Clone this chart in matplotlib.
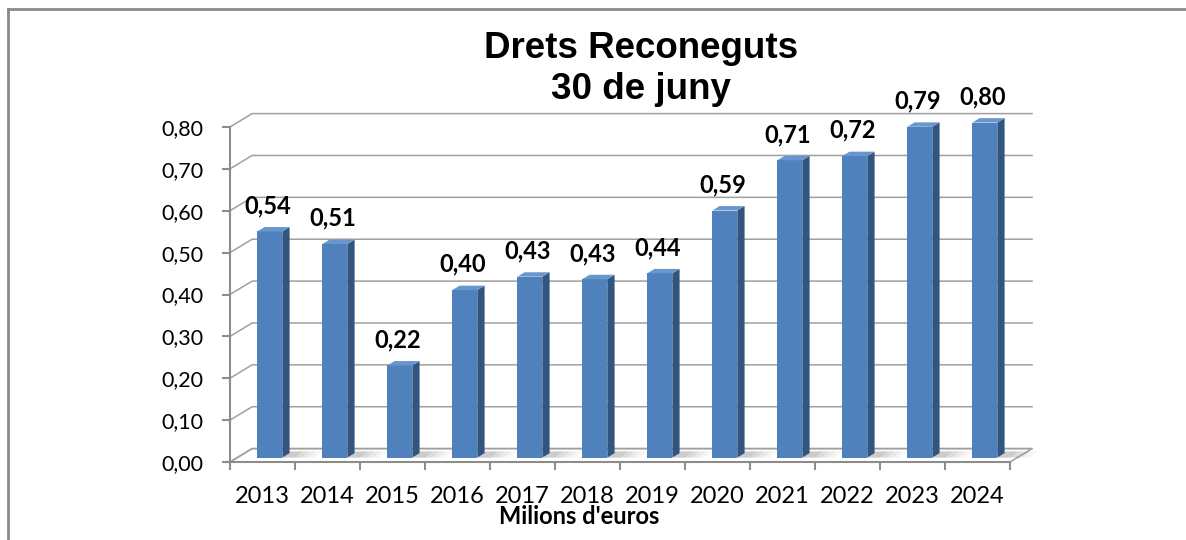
import numpy as np
import matplotlib.pyplot as plt
from matplotlib.patches import Polygon
from matplotlib.lines import Line2D

# data
years = ['2013', '2014', '2015', '2016', '2017', '2018',
         '2019', '2020', '2021', '2022', '2023', '2024']
values = [0.54, 0.51, 0.22, 0.40, 0.432, 0.426, 0.44, 0.59, 0.71, 0.72, 0.79, 0.80]
y_ticks = [0.0, 0.1, 0.2, 0.3, 0.4, 0.5, 0.6, 0.7, 0.8]

title = "Drets Reconeguts\n30 de juny"
x_title = "Milions d'euros"

# 3d look: depth offset of the back wall (in data units)
DX = 0.34
DY = 0.032
grid_col = '#A0A0A0'
axis_col = '#8C8C8C'
front_col = '#4F81BD'
side_col = '#32557F'
top_col = '#6A96D0'

fig = plt.figure(figsize=(11.86, 5.40), dpi=100)
ax = fig.add_axes([230 / 1186, 78 / 540, 780 / 1186, 335 / 540])
ax.set_xlim(-0.5, len(years) - 0.5)
ax.set_ylim(0, 0.8)

# outer frame (top and left only)
fig.add_artist(Line2D([8 / 1186, 1.0], [1 - 9 / 540, 1 - 9 / 540],
                      transform=fig.transFigure, color='#8A8A8A', lw=2))
fig.add_artist(Line2D([8 / 1186, 8 / 1186], [0, 1 - 9 / 540],
                      transform=fig.transFigure, color='#8A8A8A', lw=2))

x0 = -0.5
x1 = len(years) - 0.5

# floor
floor = Polygon([(x0, 0), (x1, 0), (x1 + DX, DY), (x0 + DX, DY)], closed=True,
                facecolor='white', edgecolor=grid_col, lw=1.1, clip_on=False, zorder=1)
ax.add_patch(floor)

# back wall gridlines + side wall diagonals
for yv in y_ticks:
    ax.plot([x0, x0 + DX, x1 + DX], [yv, yv + DY, yv + DY], color=grid_col,
            lw=1.1, clip_on=False, zorder=1)

# bars
f = 0.33
w = 0.385
ddx = f * DX
ddy = f * DY
for i, v in enumerate(values):
    xl = i + ddx - w / 2
    xr = i + ddx + w / 2
    yb = ddy
    yt = v + ddy
    # floor shadow
    for k, a in enumerate([0.06, 0.08, 0.10, 0.12]):
        ext = 0.5 - k * 0.1
        ax.add_patch(Polygon([(xr, yb), (xr + ext, yb), (xr + ext + ddx, yb + ddy * 1.4),
                              (xr + ddx, yb + ddy * 1.4)], closed=True,
                             facecolor='#606060', edgecolor='none', alpha=a,
                             clip_on=False, zorder=2))
    ax.add_patch(Polygon([(xl, yb), (xr, yb), (xr, yt), (xl, yt)], closed=True,
                         facecolor=front_col, edgecolor='none', clip_on=False, zorder=3))
    ax.add_patch(Polygon([(xr, yb), (xr + ddx, yb + ddy), (xr + ddx, yt + ddy), (xr, yt)],
                         closed=True, facecolor=side_col, edgecolor='none',
                         clip_on=False, zorder=3))
    ax.add_patch(Polygon([(xl, yt), (xr, yt), (xr + ddx, yt + ddy), (xl + ddx, yt + ddy)],
                         closed=True, facecolor=top_col, edgecolor='none',
                         clip_on=False, zorder=3))
    ax.text(i + 0.08, v + 0.072, f"{v:.2f}".replace('.', ','), ha='center', va='center',
            fontsize=17, fontweight='bold', family=['Lato', 'DejaVu Sans'], zorder=5)

# axes styling
for s in ['top', 'right']:
    ax.spines[s].set_visible(False)
for s in ['left', 'bottom']:
    ax.spines[s].set_color(axis_col)
    ax.spines[s].set_linewidth(1.5)

ax.set_yticks(y_ticks)
ax.set_yticklabels([f"{t:.2f}".replace('.', ',') for t in y_ticks],
                   family=['Lato', 'DejaVu Sans'], fontsize=15.5)
ax.tick_params(axis='y', length=6, width=1.5, color=axis_col, pad=13)

ax.set_xticks(range(len(years)))
ax.set_xticklabels(years, family=['Lato', 'DejaVu Sans'], fontsize=17)
ax.set_xticks(np.arange(-0.5, len(years), 1.0), minor=True)
ax.tick_params(axis='x', which='major', length=0, pad=17)
ax.tick_params(axis='x', which='minor', length=6, width=1.5, color=axis_col)

ax.patch.set_alpha(0)

fig.text(641 / 1186, 1 - 69 / 540, title, ha='center', va='center', fontsize=26.5,
         fontweight='bold', family=['Liberation Sans', 'DejaVu Sans'], linespacing=1.2)
fig.text(579 / 1186, 1 - 516 / 540, x_title, ha='center', va='center', fontsize=17,
         fontweight='bold', family=['Lato', 'DejaVu Sans'])

fig.savefig('out.png', dpi=100)
